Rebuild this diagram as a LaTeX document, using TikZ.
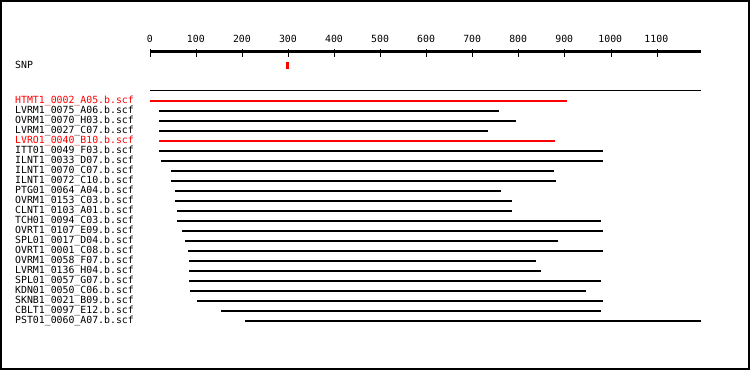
\documentclass[tikz,border=0pt]{standalone}
\usepackage{fontspec}
\newfontfamily\pixfont{DejaVu Sans Mono}[Scale=1]
\begin{document}
\begin{tikzpicture}[x=1bp,y=-1bp,
  lbl/.style={font=\pixfont\fontsize{9.85bp}{10bp}\selectfont, inner sep=0pt, anchor=base west},
  ticklbl/.style={font=\pixfont\fontsize{9.85bp}{10bp}\selectfont, inner sep=0pt, anchor=base},
  bar/.style={line width=2bp, line cap=butt}]
\useasboundingbox (0,0) rectangle (750,370);
\fill[white] (0,0) rectangle (750,370);
\draw[line width=2bp] (1,1) rectangle (749,369);
% axis
\coordinate (ax0) at (150,51.5);
\coordinate (ax1) at (701,51.5);
\draw[line width=3bp] (ax0) -- (ax1);
\foreach \k/\t in {0/0,1/100,2/200,3/300,4/400,5/500,6/600,7/700,8/800,9/900,10/1000,11/1100}{
  \draw[line width=1bp] ({150.5+46.05*\k},49) -- ({150.5+46.05*\k},56.5);
  \node[ticklbl] (t\k) at ({149.8+46.05*\k},42) {\t};
}
% SNP
\node[lbl] (snp) at (15,68.5) {SNP};
\fill[red] (286,62) rectangle (289,69);
% separator
\coordinate (s0) at (150,90.5);
\coordinate (s1) at (701,90.5);
\draw[line width=1bp] (s0) -- (s1);
% reads
\foreach [count=\i from 0] \a/\b/\c/\n in {
 150/566.5/red/HTMT1\_0002\_A05.b.scf,
 159.1/498.8/black/LVRM1\_0075\_A06.b.scf,
 159.1/515.8/black/OVRM1\_0070\_H03.b.scf,
 159.1/488.1/black/LVRM1\_0027\_C07.b.scf,
 159.1/555.4/red/LVRO1\_0040\_B10.b.scf,
 159.1/602.5/black/ITT01\_0049\_F03.b.scf,
 161.1/603.3/black/ILNT1\_0033\_D07.b.scf,
 171.4/554.2/black/ILNT1\_0070\_C07.b.scf,
 171.4/556.2/black/ILNT1\_0072\_C10.b.scf,
 175.3/501.2/black/PTG01\_0064\_A04.b.scf,
 175.3/511.5/black/OVRM1\_0153\_C03.b.scf,
 177.3/512.3/black/CLNT1\_0103\_A01.b.scf,
 177.3/601.3/black/TCH01\_0094\_C03.b.scf,
 182.4/603.3/black/OVRT1\_0107\_E09.b.scf,
 185.2/558.2/black/SPL01\_0017\_D04.b.scf,
 188.4/602.5/black/OVRT1\_0001\_C08.b.scf,
 189.2/536.4/black/OVRM1\_0058\_F07.b.scf,
 189.2/541.2/black/LVRM1\_0136\_H04.b.scf,
 189.2/600.5/black/SPL01\_0057\_G07.b.scf,
 190.3/585.5/black/KDN01\_0050\_C06.b.scf,
 197.1/602.5/black/SKNB1\_0021\_B09.b.scf,
 221.2/601.3/black/CBLT1\_0097\_E12.b.scf,
 245.3/701/black/PST01\_0060\_A07.b.scf}{
  \node[lbl, text=\c] (r\i) at (15,{103.2+10*\i}) {\n};
  \coordinate (ra\i) at (\a,{100.7+10*\i});
  \coordinate (rb\i) at (\b,{100.7+10*\i});
  \draw[bar, draw=\c] (ra\i) -- (rb\i);
}
\end{tikzpicture}
\end{document}
